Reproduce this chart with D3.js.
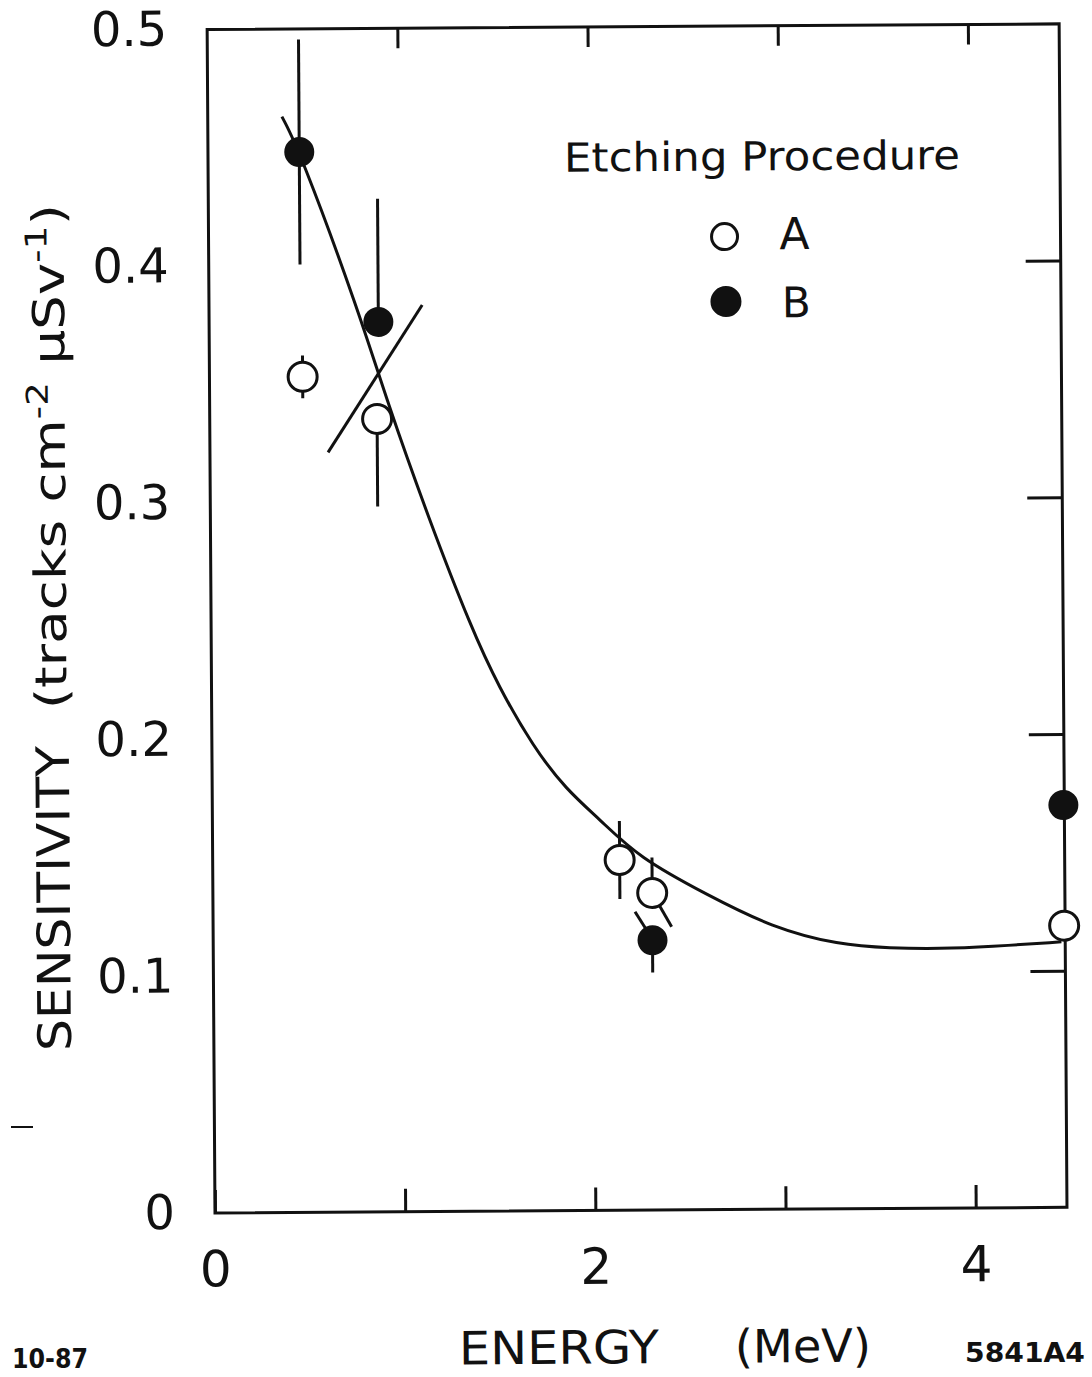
<!DOCTYPE html>
<html><head><meta charset="utf-8">
<script src="https://cdn.jsdelivr.net/npm/d3@7"></script>
<style>
html,body{margin:0;padding:0;background:#fff;}
svg{display:block;}
text{font-family:"DejaVu Sans",sans-serif;fill:#111;}
</style></head>
<body>
<script>
// ---- data ----
const xTicks = [0, 1, 2, 3, 4];
const xTickLabels = ["0", "", "2", "", "4"];
const yTicks = [0, 0.1, 0.2, 0.3, 0.4, 0.5];
const yTickLabels = ["0", "0.1", "0.2", "0.3", "0.4", "0.5"];

// Etching procedure A (open circles)
const energyA = [0.49, 0.88, 2.14, 2.31, 4.475];
const sensA   = [0.353, 0.335, 0.148, 0.134, 0.119];
const errUpA  = [0.009, 0, 0.0165, 0.015, 0];
const errDnA  = [0.009, 0.037, 0.0165, 0, 0];

// Etching procedure B (filled circles)
const energyB = [0.48, 0.89, 2.31, 4.475];
const sensB   = [0.448, 0.376, 0.114, 0.170];
const errUpB  = [0.0475, 0.052, 0, 0];
const errDnB  = [0.0475, 0, 0.0136, 0];

// slanted bars
const slantX1 = [0.621, 2.31, 2.219];
const slantY1 = [0.321, 0.134, 0.1261];
const slantX2 = [1.121, 2.411, 2.313];
const slantY2 = [0.383, 0.1197, 0.114];

// fitted curve
const curveE = [0.39, 0.48, 0.79, 0.93, 1.15, 1.37, 1.51, 1.69, 1.86, 2.04, 2.24, 2.60, 2.94, 3.29, 3.56, 3.82, 4.08, 4.46];
const curveS = [0.463, 0.449, 0.380, 0.343, 0.2923, 0.246, 0.2215, 0.196, 0.178, 0.165, 0.149, 0.133, 0.119, 0.1115, 0.110, 0.1096, 0.1103, 0.1122];

// ---- drawing ----
const W = 1092, H = 1377;
const svg = d3.select("body").append("svg").attr("width", W).attr("height", H);
svg.append("rect").attr("width", W).attr("height", H).attr("fill", "#fff");
const g = svg.append("g").attr("transform", "rotate(-0.38,215,1213)");

const x = d3.scaleLinear().domain([0, 4.48]).range([215, 1067]);
const y = d3.scaleLinear().domain([0, 0.5]).range([1213, 29.5]);

const SW = 3;
const ink = "#111";

const axB = g.append("g").attr("transform", `translate(0,${y(0)})`)
  .call(d3.axisBottom(x).tickValues(xTicks).tickSizeInner(-23).tickSizeOuter(0).tickPadding(38)
        .tickFormat((d, i) => xTickLabels[i]));
const axT = g.append("g").attr("transform", `translate(0,${y(0.5)})`)
  .call(d3.axisTop(x).tickValues([1, 2, 3, 4]).tickSizeInner(-20).tickSizeOuter(0).tickFormat(""));
const axL = g.append("g").attr("transform", `translate(${x(0)},0)`)
  .call(d3.axisLeft(y).tickValues(yTicks).tickSize(0).tickPadding(40)
        .tickFormat((d, i) => yTickLabels[i]));
const axR = g.append("g").attr("transform", `translate(${x(4.48)},0)`)
  .call(d3.axisRight(y).tickValues([0.1, 0.2, 0.3, 0.4]).tickSizeInner(-35).tickSizeOuter(0).tickFormat(""));

[axB, axT, axL, axR].forEach(a => {
  a.select(".domain").remove();
  a.selectAll("line").attr("stroke", ink).attr("stroke-width", SW);
  a.selectAll("text").attr("font-size", 50).attr("fill", ink).attr("font-family", "DejaVu Sans, sans-serif");
});
axL.selectAll("text").attr("font-size", 48);

g.append("rect").attr("x", x(0)).attr("y", y(0.5))
  .attr("width", x(4.48) - x(0)).attr("height", y(0) - y(0.5))
  .attr("fill", "none").attr("stroke", ink).attr("stroke-width", SW);

function errBars(E, S, up, dn) {
  E.forEach((e, i) => {
    if (up[i] > 0) g.append("line").attr("x1", x(e)).attr("x2", x(e))
      .attr("y1", y(S[i])).attr("y2", y(S[i] + up[i])).attr("stroke", ink).attr("stroke-width", SW);
    if (dn[i] > 0) g.append("line").attr("x1", x(e)).attr("x2", x(e))
      .attr("y1", y(S[i])).attr("y2", y(S[i] - dn[i])).attr("stroke", ink).attr("stroke-width", SW);
  });
}
errBars(energyA, sensA, errUpA, errDnA);
errBars(energyB, sensB, errUpB, errDnB);

slantX1.forEach((v, i) => {
  g.append("line").attr("x1", x(v)).attr("y1", y(slantY1[i]))
    .attr("x2", x(slantX2[i])).attr("y2", y(slantY2[i]))
    .attr("stroke", ink).attr("stroke-width", SW);
});

const lineGen = d3.line().x(d => x(d[0])).y(d => y(d[1])).curve(d3.curveBasis);
g.append("path").datum(curveE.map((e, i) => [e, curveS[i]]))
  .attr("d", lineGen).attr("fill", "none").attr("stroke", ink).attr("stroke-width", SW);

energyA.forEach((e, i) => {
  g.append("circle").attr("cx", x(e)).attr("cy", y(sensA[i])).attr("r", 14.5)
    .attr("fill", "#fff").attr("stroke", ink).attr("stroke-width", SW);
});
energyB.forEach((e, i) => {
  g.append("circle").attr("cx", x(e)).attr("cy", y(sensB[i])).attr("r", 15)
    .attr("fill", ink);
});

// legend
g.append("text").attr("x", 571).attr("y", 174).attr("font-size", 40)
  .attr("textLength", 396).attr("lengthAdjust", "spacingAndGlyphs").text("Etching Procedure");
g.append("circle").attr("cx", 731).attr("cy", 240).attr("r", 13)
  .attr("fill", "#fff").attr("stroke", ink).attr("stroke-width", SW);
g.append("text").attr("x", 786).attr("y", 253).attr("font-size", 44).text("A");
g.append("circle").attr("cx", 732).attr("cy", 305).attr("r", 15.5).attr("fill", ink);
g.append("text").attr("x", 788).attr("y", 321).attr("font-size", 42).text("B");

// axis titles
g.append("text").attr("transform", "translate(72,1050) rotate(-90)")
  .attr("font-size", 46).attr("textLength", 305).attr("lengthAdjust", "spacingAndGlyphs").text("SENSITIVITY");
const yt = g.append("text").attr("transform", "translate(70,708) rotate(-90)")
  .attr("font-size", 44).attr("textLength", 505).attr("lengthAdjust", "spacingAndGlyphs");
yt.append("tspan").text("(tracks cm");
yt.append("tspan").attr("baseline-shift", "super").attr("font-size", 30).text("-2");
yt.append("tspan").text(" \u03BCSv");
yt.append("tspan").attr("baseline-shift", "super").attr("font-size", 30).text("-1");
yt.append("tspan").text(")");

g.append("text").attr("x", 458).attr("y", 1366).attr("font-size", 46)
  .attr("textLength", 200).attr("lengthAdjust", "spacingAndGlyphs").text("ENERGY");
g.append("text").attr("x", 734).attr("y", 1366).attr("font-size", 46)
  .attr("textLength", 136).attr("lengthAdjust", "spacingAndGlyphs").text("(MeV)");

svg.append("text").attr("x", 12).attr("y", 1368).attr("font-size", 26).attr("font-weight", "bold")
  .attr("textLength", 76).attr("lengthAdjust", "spacingAndGlyphs").text("10-87");
svg.append("text").attr("x", 965).attr("y", 1362).attr("font-size", 26).attr("font-weight", "bold")
  .attr("textLength", 120).attr("lengthAdjust", "spacingAndGlyphs").text("5841A4");

svg.append("line").attr("x1", 11).attr("x2", 33).attr("y1", 1127).attr("y2", 1127)
  .attr("stroke", ink).attr("stroke-width", 2);
</script>
</body></html>
